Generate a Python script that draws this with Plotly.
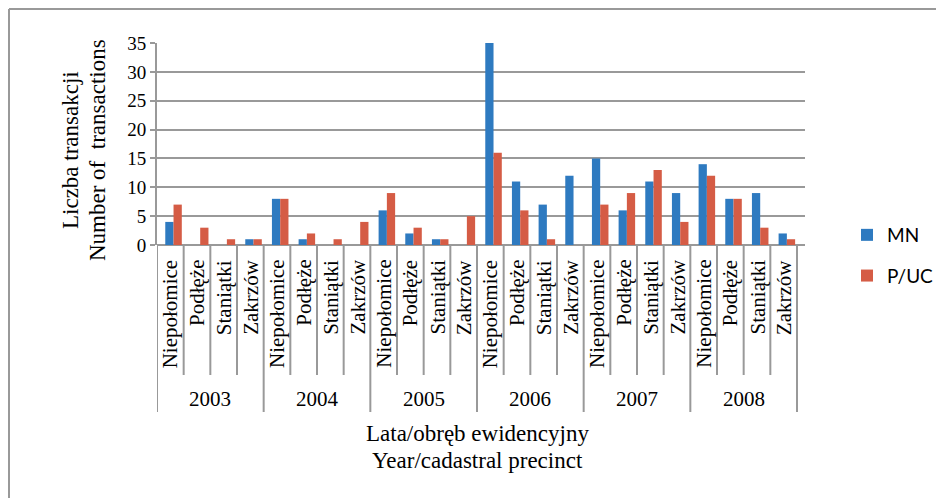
import plotly.graph_objects as go

years = ["2003", "2004", "2005", "2006", "2007", "2008"]
precincts = ["Niepołomice", "Podłęże", "Staniątki", "Zakrzów"]
mn = [4, 0, 0, 1,
      8, 1, 0, 0,
      6, 2, 1, 0,
      35, 11, 7, 12,
      15, 6, 11, 9,
      14, 8, 9, 2]
puc = [7, 3, 1, 1,
       8, 2, 1, 4,
       9, 3, 1, 5,
       16, 6, 1, 0,
       7, 9, 13, 4,
       12, 8, 3, 1]
y_ticks = [0, 5, 10, 15, 20, 25, 30, 35]

O = 8  # page body margin offset
W, H = 944 - O, 498 - O
# plot area in page pixels
L, R, T, B = 157, 805, 43, 245
n = len(years) * len(precincts)
xr = [-0.5, n - 0.5 + (R - 797) / ((797 - 157) / n)]

def py(p):  # page pixel y -> paper y
    return (B - p) / (B - T)

def px(p):  # page pixel x -> paper x
    return (p - L) / (R - L)

xs = list(range(n))
blue = "#2E7AC0"
red = "#D55C45"
serif = "Liberation Serif, Times New Roman, serif"

fig = go.Figure()
fig.add_trace(go.Bar(x=xs, y=mn, name="MN", marker=dict(color=blue, line=dict(width=0)),
                     width=0.31, offset=-0.19, legendgroup="a"))
fig.add_trace(go.Bar(x=xs, y=puc, name="P/UC", marker=dict(color=red, line=dict(width=0)),
                     width=0.31, offset=0.12, legendgroup="b"))

shapes = []
grey = "#999999"
for i in range(n + 1):
    is_year = (i % len(precincts) == 0)
    shapes.append(dict(type="line", xref="x", yref="paper", x0=i - 0.5, x1=i - 0.5,
                       y0=0, y1=py(412 if is_year else 375),
                       line=dict(color=grey, width=2), layer="above"))
# outer frame (left and top edges visible)
shapes.append(dict(type="line", xref="paper", yref="paper", x0=px(9), x1=px(9),
                   y0=py(9), y1=py(500), line=dict(color=grey, width=2)))
shapes.append(dict(type="line", xref="paper", yref="paper", x0=px(9), x1=px(946),
                   y0=py(9), y1=py(9), line=dict(color=grey, width=2)))

annotations = []
for i in range(n):
    annotations.append(dict(x=i, xref="x", y=py(258), yref="paper", text=precincts[i % len(precincts)],
                            textangle=-90, showarrow=False, xanchor="center", yanchor="top",
                            font=dict(family=serif, size=21, color="black")))
for k, yr in enumerate(years):
    annotations.append(dict(x=k * len(precincts) + 1.5, xref="x", y=py(399), yref="paper", text=yr,
                            showarrow=False, xanchor="center", yanchor="middle",
                            font=dict(family=serif, size=21, color="black")))
annotations.append(dict(x=(-0.5 + n - 0.5) / 2, xref="x", y=py(433), yref="paper",
                        text="Lata/obręb ewidencyjny", showarrow=False, yanchor="middle",
                        font=dict(family=serif, size=23, color="black")))
annotations.append(dict(x=(-0.5 + n - 0.5) / 2, xref="x", y=py(460), yref="paper",
                        text="Year/cadastral precinct", showarrow=False, yanchor="middle",
                        font=dict(family=serif, size=23, color="black")))
annotations.append(dict(x=px(70), xref="paper", y=py(150), yref="paper",
                        text="Liczba transakcji", textangle=-90, showarrow=False,
                        xanchor="center", yanchor="middle",
                        font=dict(family=serif, size=23, color="black")))
annotations.append(dict(x=px(97), xref="paper", y=py(150), yref="paper",
                        text="Number of\u00a0 transactions", textangle=-90, showarrow=False,
                        xanchor="center", yanchor="middle",
                        font=dict(family=serif, size=23, color="black")))

fig.update_layout(
    width=W, height=H,
    margin=dict(l=L - O, r=944 - R, t=T - O, b=498 - B, autoexpand=False),
    paper_bgcolor="white", plot_bgcolor="white",
    barmode="overlay",
    showlegend=True,
    legend=dict(x=px(847), y=py(216), xanchor="left", yanchor="top",
                traceorder="grouped", tracegroupgap=13,
                font=dict(family="Lato, sans-serif", size=19, color="black"),
                bgcolor="rgba(0,0,0,0)"),
    xaxis=dict(range=xr, showticklabels=False, showgrid=False, zeroline=False,
               showline=False, ticks=""),
    yaxis=dict(range=[0, 35], tickvals=y_ticks, showgrid=True, gridcolor=grey, gridwidth=2,
               zeroline=True, zerolinecolor=grey, zerolinewidth=2,
               showline=True, linecolor=grey, linewidth=2,
               ticks="outside", ticklen=5, tickcolor=grey, tickwidth=2,
               tickfont=dict(family=serif, size=19, color="black")),
    shapes=shapes, annotations=annotations,
)
fig.write_html("out.html")
